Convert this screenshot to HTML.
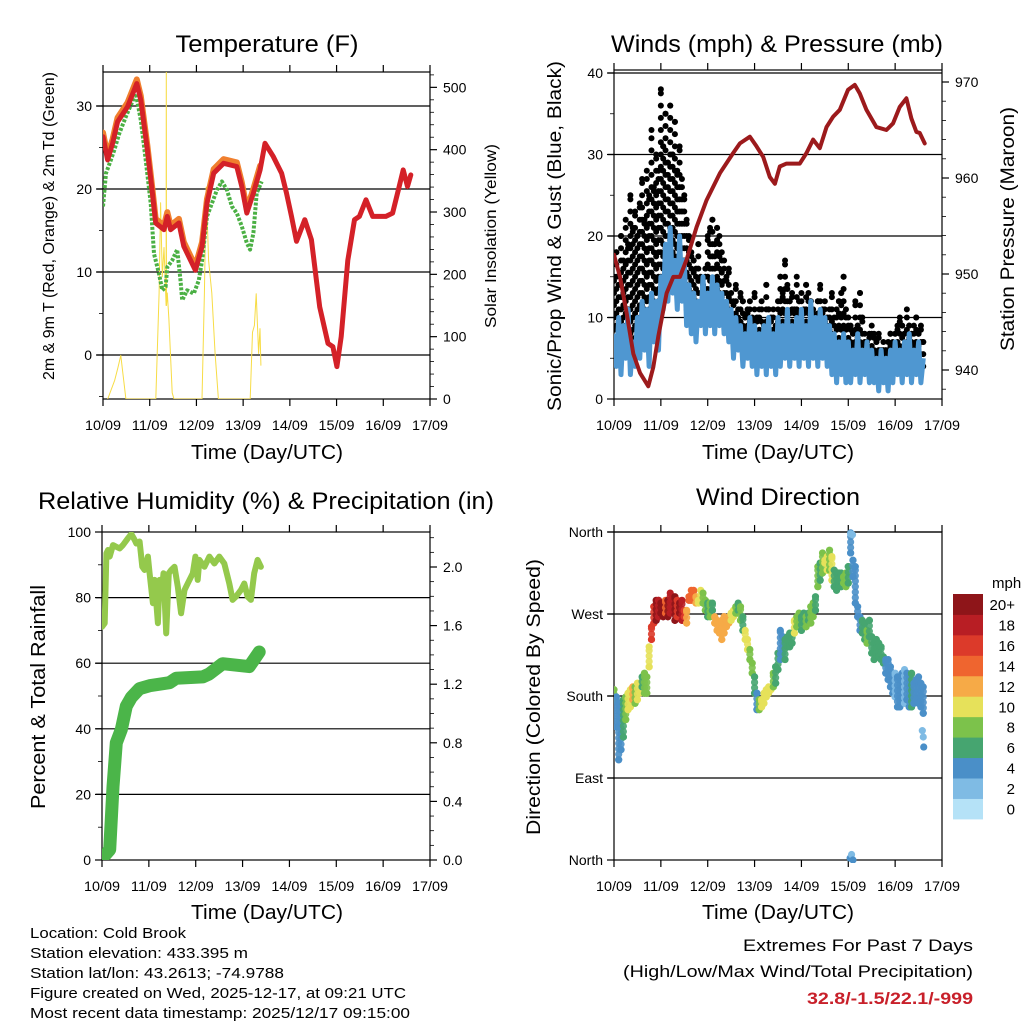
<!DOCTYPE html>
<html><head><meta charset="utf-8"><style>
html,body{margin:0;padding:0;background:#fff;}
svg{display:block;font-family:"Liberation Sans",sans-serif;}
</style></head><body>
<svg id="chart" width="1024" height="1024" viewBox="0 0 1024 1024" xmlns="http://www.w3.org/2000/svg">
<rect width="1024" height="1024" fill="#fff"/>
<defs>
<clipPath id="c1"><rect x="103" y="72" width="327" height="327"/></clipPath>
<clipPath id="c2"><rect x="614" y="70" width="328" height="329"/></clipPath>
<clipPath id="c3"><rect x="102" y="532" width="328" height="328"/></clipPath>
<clipPath id="c4"><rect x="614" y="527" width="328" height="336"/></clipPath>
</defs>
<text x="267" y="52" font-size="24" text-anchor="middle" textLength="183" lengthAdjust="spacingAndGlyphs">Temperature (F)</text>
<text x="777" y="52" font-size="24" text-anchor="middle" textLength="332" lengthAdjust="spacingAndGlyphs">Winds (mph) &amp; Pressure (mb)</text>
<text x="266" y="509" font-size="24" text-anchor="middle" textLength="456" lengthAdjust="spacingAndGlyphs">Relative Humidity (%) &amp; Precipitation (in)</text>
<text x="778" y="505" font-size="24" text-anchor="middle" textLength="164" lengthAdjust="spacingAndGlyphs">Wind Direction</text>
<text x="267" y="459" font-size="20" text-anchor="middle" textLength="152" lengthAdjust="spacingAndGlyphs">Time (Day/UTC)</text>
<text x="778" y="459" font-size="20" text-anchor="middle" textLength="152" lengthAdjust="spacingAndGlyphs">Time (Day/UTC)</text>
<text x="267" y="919" font-size="20" text-anchor="middle" textLength="152" lengthAdjust="spacingAndGlyphs">Time (Day/UTC)</text>
<text x="778" y="919" font-size="20" text-anchor="middle" textLength="152" lengthAdjust="spacingAndGlyphs">Time (Day/UTC)</text>
<text transform="translate(54,226) rotate(-90)" font-size="16" text-anchor="middle" textLength="308" lengthAdjust="spacingAndGlyphs">2m &amp; 9m T (Red, Orange) &amp; 2m Td (Green)</text>
<text transform="translate(496,236) rotate(-90)" font-size="16" text-anchor="middle" textLength="184" lengthAdjust="spacingAndGlyphs">Solar Insolation (Yellow)</text>
<text transform="translate(561,236) rotate(-90)" font-size="19" text-anchor="middle" textLength="350" lengthAdjust="spacingAndGlyphs">Sonic/Prop Wind &amp; Gust (Blue, Black)</text>
<text transform="translate(1014,229) rotate(-90)" font-size="19" text-anchor="middle" textLength="244" lengthAdjust="spacingAndGlyphs">Station Pressure (Maroon)</text>
<text transform="translate(45,697) rotate(-90)" font-size="20" text-anchor="middle" textLength="224" lengthAdjust="spacingAndGlyphs">Percent &amp; Total Rainfall</text>
<text transform="translate(540,697) rotate(-90)" font-size="19" text-anchor="middle" textLength="276" lengthAdjust="spacingAndGlyphs">Direction (Colored By Speed)</text>
<g font-size="15">
<text x="30" y="938" textLength="156" lengthAdjust="spacingAndGlyphs">Location: Cold Brook</text>
<text x="30" y="958" textLength="218" lengthAdjust="spacingAndGlyphs">Station elevation: 433.395 m</text>
<text x="30" y="978" textLength="254" lengthAdjust="spacingAndGlyphs">Station lat/lon: 43.2613; -74.9788</text>
<text x="30" y="998" textLength="376" lengthAdjust="spacingAndGlyphs">Figure created on Wed, 2025-12-17, at 09:21 UTC</text>
<text x="30" y="1018" textLength="380" lengthAdjust="spacingAndGlyphs">Most recent data timestamp: 2025/12/17 09:15:00</text>
</g>
<text x="973" y="951" font-size="17" text-anchor="end" textLength="230" lengthAdjust="spacingAndGlyphs">Extremes For Past 7 Days</text>
<text x="973" y="977" font-size="17" text-anchor="end" textLength="350" lengthAdjust="spacingAndGlyphs">(High/Low/Max Wind/Total Precipitation)</text>
<text x="973" y="1004" font-size="17" font-weight="bold" fill="#c8202a" text-anchor="end" textLength="166" lengthAdjust="spacingAndGlyphs">32.8/-1.5/22.1/-999</text>
<text x="992" y="588" font-size="15">mph</text>
</svg>
<script>
// ---------- data ----------
const dayLabels = ["10/09","11/09","12/09","13/09","14/09","15/09","16/09","17/09"];
// Temperature panel
const tempDays = [0.0,0.099,0.206,0.312,0.525,0.723,0.809,0.950,1.057,1.128,1.305,1.376,1.447,1.624,1.730,1.979,2.121,2.227,2.369,2.582,2.865,2.972,3.078,3.220,3.362,3.468,3.645,3.823,3.929,4.035,4.142,4.319,4.461,4.638,4.816,4.922,5.007,5.099,5.241,5.383,5.489,5.631,5.773,6.057,6.199,6.340,6.426,6.518,6.589];
const temp2m = [26.3,23.5,25.5,28.1,29.9,32.7,30.7,24.7,19.5,15.9,15.1,16.7,15.1,15.9,13.1,10.2,13.1,18.3,21.9,23.1,22.7,20.3,17.1,19.5,22.3,25.5,23.9,21.9,19.5,16.7,13.7,16.3,13.9,5.8,1.4,1.0,-1.4,2.2,11.4,16.3,16.7,18.7,16.7,16.7,17.1,20.3,22.3,20.3,21.7];
const temp9m = [26.8,24.0,26.0,28.6,30.4,33.2,31.2,25.2,20.0,16.4,15.6,17.2,15.6,16.4,13.6,10.7,13.6,18.8,22.4,23.6,23.2,20.8,17.6,20.0,22.8];
const tdDays = [0.0,0.064,0.170,0.241,0.348,0.489,0.702,0.809,0.915,1.021,1.092,1.199,1.270,1.340,1.376,1.482,1.589,1.660,1.695,1.801,1.943,2.050,2.121,2.227,2.333,2.440,2.546,2.652,2.759,2.865,2.972,3.078,3.149,3.220,3.291,3.397];
const dewpoint = [17.9,21.9,23.5,24.7,26.7,28.7,31.5,28.3,23.5,18.3,12.2,9.8,7.8,8.2,10.6,11.4,12.7,9.0,6.6,7.8,7.4,9.0,11.4,16.7,18.3,19.9,20.9,19.9,17.9,17.1,15.5,13.5,12.7,14.7,19.5,20.9];
const solarDays = [0.10,0.25,0.32,0.38,0.42,0.49,1.13,1.20,1.234,1.27,1.305,1.35,1.355,1.36,1.376,1.41,1.482,1.52,2.12,2.17,2.21,2.26,2.33,2.40,2.47,3.15,3.20,3.24,3.28,3.33,3.36,3.38];
const solar = [0,30,50,70,45,0,0,170,315,196,243,150,560,150,170,128,10,0,0,170,340,222,170,73,0,0,107,118,169,73,113,54];
// Winds panel (samples every 0.05 day)
const windStartDay = 0, windStepDay = 0.05;
const windSpeed = [8,4,10,3,9,5,11,3,7,4, 10,5,12,6,11,4,13,7,12,6, 15,11,19,12,21,13,17,11,20,12, 17,9,14,8,13,7,12,9,15,8, 13,9,15,8,14,9,13,8,12,7, 11,5,10,6,9,4,8,5,10,4, 9,3,8,4,9,3,10,4,8,3, 10,4,9,5,11,4,9,5,10,4, 11,5,9,4,12,5,10,4,11,5, 10,4,9,3,8,2,7,3,8,2, 7,2,6,3,8,2,6,3,7,2, 6,2,5,1,6,2,5,1,6,2, 7,3,6,2,7,3,8,2,6,3,7,2,5];
const gustHigh = [15,18,14,20,17,22,19,25,21,23, 20,24,27,22,28,25,33,26,30,28, 38,31,35,29,36,30,34,28,31,27, 25,22,20,18,17,16,19,15,14,16, 20,21,22,19,21,20,18,17,15,16, 13,12,14,11,13,12,10,11,12,10, 13,10,11,12,9,14,11,10,11,9, 12,15,13,17,14,12,13,11,15,12, 13,11,14,13,12,11,10,12,14,11, 12,10,11,13,10,11,12,13,15,11, 10,9,8,12,9,13,10,8,7,8, 9,8,7,8,6,7,6,7,8,7, 8,9,10,9,8,11,9,8,9,10,8,9,7];
const gustLow = [7,6,8,5,7,6,8,5,7,6, 8,7,10,8,9,8,11,9,10,9, 15,13,17,14,18,15,16,14,17,14, 14,11,12,10,11,9,10,10,12,9, 12,10,13,10,12,10,11,10,10,8, 9,7,9,7,8,6,7,6,8,6, 8,5,7,5,7,5,8,5,7,5, 8,6,8,6,9,6,8,6,8,6, 9,6,8,6,9,6,8,6,9,6, 8,6,7,5,6,4,6,4,6,4, 6,4,5,4,6,4,5,4,5,3, 5,3,4,3,5,3,4,3,5,3, 5,4,5,3,5,4,6,4,5,4,5,4,4];
const presDays = [0.0,0.128,0.270,0.412,0.554,0.732,0.839,0.945,1.123,1.265,1.407,1.549,1.763,1.976,2.260,2.544,2.687,2.900,3.042,3.184,3.326,3.433,3.539,3.682,3.966,4.108,4.250,4.392,4.535,4.677,4.819,4.996,5.139,5.245,5.387,5.601,5.814,5.956,6.098,6.240,6.347,6.453,6.525,6.631];
const pressure = [952.0,949.7,945.9,941.7,939.7,938.3,940.3,943.5,948.0,949.7,949.7,951.5,954.9,957.7,960.5,962.6,963.6,964.3,963.3,962.2,960.1,959.4,961.2,961.5,961.5,962.6,964.0,963.1,965.3,966.4,967.1,969.2,969.7,968.8,967.1,965.3,965.0,965.7,967.4,968.3,966.2,964.8,964.7,963.6];
// RH / precip panel
const rhDays = [0.0,0.057,0.093,0.128,0.164,0.235,0.306,0.377,0.447,0.554,0.625,0.696,0.731,0.802,0.859,0.909,0.979,1.015,1.086,1.121,1.192,1.228,1.284,1.313,1.370,1.426,1.476,1.547,1.618,1.689,1.760,1.830,1.937,1.994,2.043,2.079,2.185,2.292,2.398,2.504,2.611,2.717,2.788,2.859,2.965,3.036,3.107,3.178,3.249,3.320,3.391];
const relHum = [71.1,72.2,93.5,94.5,92.5,96.0,95.5,95.0,96.0,98.1,99.4,97.6,96.5,97.1,89.4,88.4,92.5,87.4,78.3,85.4,72.2,85.4,83.3,87.4,69.1,87.4,88.4,89.4,83.3,75.2,82.3,84.3,87.4,92.5,85.4,91.5,89.4,92.5,90.4,92.5,90.4,84.3,79.3,80.3,82.3,84.3,80.3,79.3,87.4,91.5,89.4];
const precipDays = [0.0,0.164,0.235,0.306,0.412,0.518,0.625,0.802,1.015,1.440,1.582,2.149,2.290,2.574,3.142,3.249,3.355];
const precip = [0.01,0.07,0.50,0.80,0.89,1.05,1.11,1.17,1.19,1.21,1.24,1.25,1.27,1.34,1.32,1.37,1.42];
// Wind direction panel (samples every 0.05 day, two readings each)
const dirA = [187,179,172,168,176,179,183,187,190,190,194,194,201,205,201,234,256,278,285,285,282,282,285,285,293,289,289,285,282,285,274,274,285,296,296,289,285,296,293,285,282,282,282,267,263,260,263,267,263,267,271,274,278,282,278,267,252,242,231,216,201,183,176,176,183,187,190,190,205,212,227,252,245,242,245,249,249,263,267,271,267,271,267,271,278,282,289,322,326,337,329,333,340,333,318,315,315,315,311,315,322,359,329,322,278,267,263,260,252,263,245,238,242,238,234,223,220,220,212,205,205,201,201,205,209,205,201,205,194,198,201,194,190];
const dirB = [176,146,110,121,135,154,165,168,176,172,176,183,190,183,183,212,242,260,263,267,271,267,271,267,271,274,263,267,271,263,267,260,289,285,289,282,282,285,282,274,267,267,274,260,252,249,242,249,256,260,263,267,271,274,263,252,242,231,220,205,183,165,165,168,172,179,183,187,190,194,209,220,227,220,234,234,238,249,256,260,252,260,256,263,260,267,274,300,307,315,326,318,318,307,300,296,300,300,304,300,304,337,311,282,267,252,249,242,238,245,227,220,227,223,220,216,205,198,190,183,179,168,168,172,172,176,168,168,172,176,172,168,161];
const dirSpeed = [8,5,4,4,6,8,10,10,12,9,10,10,7,8,9,10,16,17,20,19,21,20,14,20,18,19,20,17,21,19,17,13,15,14,15,12,10,10,9,8,7,8,7,13,12,13,12,12,13,12,11,11,9,7,8,7,10,11,9,8,6,5,8,10,10,10,11,10,8,7,6,5,5,6,6,6,7,10,9,8,7,7,8,7,9,8,7,8,7,9,10,11,8,11,6,7,7,6,8,9,7,4,4,4,5,5,6,7,8,7,6,7,7,7,7,6,5,5,5,4,3,4,4,4,3,4,4,6,5,5,4,4,4];
const outDays = [5.04,5.07,5.10,5.05,5.09,6.58,6.60,6.61];
const outDir = [2,6,0,358,357,142,135,124];
const outSpeed = [4,3,4,3,2,2,3,4];
const speedColors = ["#b5e2f7","#7fbbe4","#4a8fc8","#46a570","#7cc24b","#e6e15a","#f6aa47","#ef652f","#dc3a2a","#b81e24","#8e1519"];
const speedLabels = ["0","2","4","6","8","10","12","14","16","18","20+"];

// ---------- helpers ----------
const NS = "http://www.w3.org/2000/svg";
const svg = document.getElementById("chart");
function mk(tag, attrs, parent) {
  const e = document.createElementNS(NS, tag);
  for (const k in attrs) e.setAttribute(k, attrs[k]);
  (parent || svg).appendChild(e);
  return e;
}
function ptsStr(xs, ys, fx, fy) {
  return xs.map((d, i) => fx(d).toFixed(1) + "," + fy(ys[i]).toFixed(1)).join(" ");
}
const panels = {
  temp: {x0:103, x1:430, y0:72, y1:399},
  wind: {x0:614, x1:942, y0:70, y1:399},
  rh:   {x0:102, x1:430, y0:532, y1:860},
  dir:  {x0:614, x1:942, y0:532, y1:860}
};
function xScale(p) { return d => p.x0 + d * (p.x1 - p.x0) / 7; }
const xT = xScale(panels.temp), xW = xScale(panels.wind), xR = xScale(panels.rh), xD = xScale(panels.dir);
const yTemp = t => 355 - t * 8.3;
const ySolar = v => 399 - v * 0.6233;
const yWind = s => 399 - s * 8.15;
const yPres = p => 370 - (p - 940) * 9.6;
const yRH = r => 860 - r * 3.28;
const yPrecip = v => 860 - v * 146.5;
const yDir = d => 860 - d * 328 / 360;

// ---------- axes ----------
function drawAxes(key, p, xs, leftTicks, leftFmt, yL, leftMinor, rightTicks, rightFmt, yR, rightMinor, gridTicks) {
  const g = mk("g", {stroke:"#000", "stroke-width":"1.2", fill:"none"});
  
  
  gridTicks.forEach(v => {
    const gl = mk("line", {x1:p.x0-6, x2:p.x1, y1:yL(v), y2:yL(v)}, g);
    
    
  });
  const fr = mk("rect", {x:p.x0, y:p.y0, width:p.x1-p.x0, height:p.y1-p.y0}, g);
  
  
  dayLabels.forEach((lab, i) => {
    const x = xs(i);
    const tk = mk("line", {x1:x, x2:x, y1:p.y1, y2:p.y1+7}, g);
    
    
    const tk2 = mk("line", {x1:x, x2:x, y1:p.y0, y2:p.y0-7}, g);
    
    
    const t = mk("text", {x:x, y:p.y1+31, "font-size":"14", "text-anchor":"middle", stroke:"none", fill:"#000", textLength:"36", lengthAdjust:"spacingAndGlyphs"});
    t.textContent = lab;
    
    
  });
  leftTicks.forEach(v => {
    const y = yL(v);
    const tk = mk("line", {x1:p.x0-7, x2:p.x0, y1:y, y2:y}, g);
    
    
    const t = mk("text", {x:p.x0-11, y:y+5, "font-size":"14", "text-anchor":"end", stroke:"none", fill:"#000"});
    t.textContent = leftFmt(v);
    
    
  });
  leftMinor.forEach(v => {
    const tk = mk("line", {x1:p.x0-4, x2:p.x0, y1:yL(v), y2:yL(v), "stroke-width":"0.8"}, g);
    
    
  });
  rightTicks.forEach(v => {
    const y = yR(v);
    const tk = mk("line", {x1:p.x1, x2:p.x1+7, y1:y, y2:y}, g);
    
    
    const t = mk("text", {x:p.x1+13, y:y+5, "font-size":"14", "text-anchor":"start", stroke:"none", fill:"#000"});
    t.textContent = rightFmt(v);
    
    
  });
  rightMinor.forEach(v => {
    const tk = mk("line", {x1:p.x1, x2:p.x1+4, y1:yR(v), y2:yR(v), "stroke-width":"0.8"}, g);
    
    
  });
}
drawAxes("temp", panels.temp, xT, [0,10,20,30], v=>String(v), yTemp, [-5,5,15,25], [0,100,200,300,400,500], v=>String(v), ySolar,
  [20,40,60,80,120,140,160,180,220,240,260,280,320,340,360,380,420,440,460,480,520], [0,10,20,30]);
drawAxes("wind", panels.wind, xW, [0,10,20,30,40], v=>String(v), yWind, [5,15,25,35], [940,950,960,970], v=>String(v), yPres,
  [938,942,944,946,948,952,954,956,958,962,964,966,968], [10,20,30,40]);
drawAxes("rh", panels.rh, xR, [0,20,40,60,80,100], v=>String(v), yRH, [10,30,50,70,90], [0,0.4,0.8,1.2,1.6,2.0], v=>v.toFixed(1), yPrecip,
  [0.1,0.2,0.3,0.5,0.6,0.7,0.9,1.0,1.1,1.3,1.4,1.5,1.7,1.8,1.9,2.1,2.2], [20,40,60,80]);
drawAxes("dir", panels.dir, xD, [0,90,180,270,360], v=>({0:"North",90:"East",180:"South",270:"West",360:"North"})[v], yDir, [], [], v=>"", yDir, [], [90,180,270,360]);

// ---------- temperature series ----------
const gT = mk("g", {"clip-path":"url(#c1)", fill:"none", "stroke-linejoin":"round", "stroke-linecap":"round"});


const sol = mk("polyline", {points: ptsStr(solarDays, solar, xT, ySolar), stroke:"#f7dc45", "stroke-width":"1"}, gT);


const td = mk("polyline", {points: ptsStr(tdDays, dewpoint, xT, yTemp), stroke:"#4bb044", "stroke-width":"4", "stroke-dasharray":"3 1.6", "stroke-linecap":"butt"}, gT);


const t9 = mk("polyline", {points: ptsStr(tempDays.slice(0, temp9m.length), temp9m, xT, yTemp), stroke:"#f07f2e", "stroke-width":"6"}, gT);


const t2 = mk("polyline", {points: ptsStr(tempDays, temp2m, xT, yTemp), stroke:"#d42128", "stroke-width":"5"}, gT);



// ---------- wind series ----------
const gW = mk("g", {"clip-path":"url(#c2)"});


const windDays = windSpeed.map((v, i) => windStartDay + i * windStepDay);
windDays.forEach((d, i) => {
  for (let v = gustLow[i]; v <= gustHigh[i]; v += 1.5) {
    const c = mk("circle", {cx: xW(d), cy: yWind(v), r: 3, fill:"#000"}, gW);
    
    
  }
  const c2 = mk("circle", {cx: xW(d), cy: yWind(gustHigh[i]), r: 3, fill:"#000"}, gW);
  
  
});
const ws = mk("polyline", {points: ptsStr(windDays, windSpeed, xW, yWind), stroke:"#4f97d1", "stroke-width":"5", fill:"none", "stroke-linejoin":"round"}, gW);


const pr = mk("polyline", {points: ptsStr(presDays, pressure, xW, yPres), stroke:"#9c1a1c", "stroke-width":"4", fill:"none", "stroke-linejoin":"round", "stroke-linecap":"round"}, gW);



// ---------- RH / precip ----------
const gR = mk("g", {"clip-path":"url(#c3)", fill:"none", "stroke-linejoin":"round", "stroke-linecap":"round"});


const rh = mk("polyline", {points: ptsStr(rhDays, relHum, xR, yRH), stroke:"#94c94c", "stroke-width":"6"}, gR);


const pc = mk("polyline", {points: ptsStr(precipDays, precip, xR, yPrecip), stroke:"#4bb549", "stroke-width":"13"}, gR);



// ---------- wind direction ----------
const gD = mk("g", {"clip-path":"url(#c4)"});


function spColor(s) { return speedColors[Math.max(0, Math.min(10, Math.floor(s / 2)))]; }
const dirDays = dirA.map((v, i) => windStartDay + i * windStepDay);
dirDays.forEach((d, i) => {
  const lo = Math.min(dirA[i], dirB[i]), hi = Math.max(dirA[i], dirB[i]);
  for (let v = lo; v <= hi; v += 6) {
    const c = mk("circle", {cx: xD(d), cy: yDir(v), r: 3.6, fill: spColor(dirSpeed[i]), "fill-opacity":"0.9"}, gD);
    
    
  }
  const ca = mk("circle", {cx: xD(d), cy: yDir(dirA[i]), r: 3.6, fill: spColor(dirSpeed[i])}, gD);
  
  
  const cb = mk("circle", {cx: xD(d), cy: yDir(dirB[i]), r: 3.6, fill: spColor(dirSpeed[i])}, gD);
  
  
});
outDays.forEach((d, i) => {
  const c = mk("circle", {cx: xD(d), cy: yDir(outDir[i]), r: 3.6, fill: spColor(outSpeed[i])}, gD);
  
  
});

// ---------- colorbar ----------
const gC = mk("g", {});


speedColors.forEach((col, i) => {
  const k = 10 - i;
  const y = 594 + k * 20.45;
  const r = mk("rect", {x:953, y:y, width:30, height:20.9, fill:col}, gC);
  
  
  const t = mk("text", {x:1015, y:y+16, "font-size":"15", "text-anchor":"end", fill:"#000"}, gC);
  t.textContent = speedLabels[i];
  
  
});
</script>
</body></html>
